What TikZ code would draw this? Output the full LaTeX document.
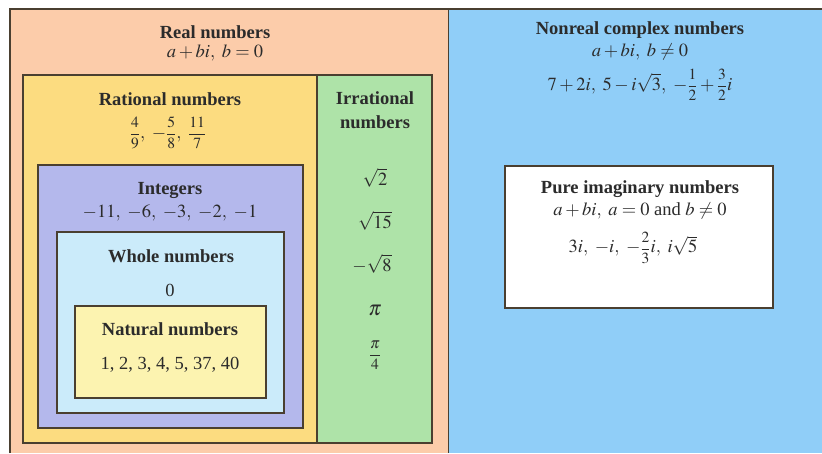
\documentclass[tikz,border=0pt]{standalone}
\usepackage{mathptmx}
\usepackage[no-math]{fontspec}
\setmainfont{Liberation Serif}
\definecolor{realc}{HTML}{FCCCAA}
\definecolor{ratc}{HTML}{FCDC80}
\definecolor{irrc}{HTML}{AEE3A8}
\definecolor{intc}{HTML}{B4B8EC}
\definecolor{wholec}{HTML}{CBEBFA}
\definecolor{natc}{HTML}{FCF3B0}
\definecolor{cplxc}{HTML}{90CEF8}
\definecolor{edgec}{HTML}{4A3F30}
\definecolor{txtc}{HTML}{2B2B2B}
\newcommand{\ff}[2]{\mbox{\fontsize{15.5}{17}\selectfont$\displaystyle\frac{#1}{#2}$}}
\begin{document}
\begin{tikzpicture}[x=1pt,y=-1pt,
  region/.style={draw=edgec,line width=1.3pt},
  lbl/.style={text=txtc,font=\fontsize{18.5}{24}\selectfont,align=center,inner sep=0pt},
  ttl/.style={lbl,font=\fontsize{18.5}{24}\selectfont\bfseries}]
\useasboundingbox (0,0) rectangle (822,453);
\fill[white] (0,0) rectangle (822,453);
% regions
\path[fill=cplxc] (448,9) rectangle (822,453);
\draw[edgec,line width=1.3pt] (448,453) -- (448,9) -- (822,9);
\path[fill=realc] (10,9) rectangle (448,453);
\draw[edgec,line width=1.3pt] (10,453) -- (10,9) -- (448,9);
\draw[region,fill=ratc] (23,75) rectangle (317,443);
\draw[region,fill=irrc] (317,75) rectangle (432,443);
\draw[region,fill=intc] (38,165) rectangle (303,428);
\draw[region,fill=wholec] (57,232) rectangle (284,413);
\draw[region,fill=natc] (75,306) rectangle (266,398);
\draw[region,fill=white] (505,166) rectangle (773,308);
% texts
\node[ttl] (real) at (215,32) {Real numbers};
\node[lbl] (realf) at (215,53) {$a+bi,\ b=0$};
\node[ttl] (rat) at (170,99) {Rational numbers};
\node[lbl] (ratx) at (168,133) {$\ff{4}{9},\ -\ff{5}{8},\ \ff{11}{7}$};
\node[ttl] (irr) at (375,110) {Irrational\\numbers};
\node[lbl] (ir1) at (375,178) {$\sqrt{2}$};
\node[lbl] (ir2) at (375,221) {$\sqrt{15}$};
\node[lbl] (ir3) at (372,264) {$-\sqrt{8}$};
\node[lbl] (ir4) at (375,310) {\fontsize{21}{24}\selectfont$\pi$};
\node[lbl] (ir5) at (375,355) {$\ff{\pi}{4}$};
\node[ttl] (int) at (170,190) {Integers};
\node[lbl] (intx) at (170,213) {$-11,\ -6,\ -3,\ -2,\ -1$};
\node[ttl] (whole) at (171,256) {Whole numbers};
\node[lbl] (wholex) at (170,290) {0};
\node[ttl] (nat) at (170,329) {Natural numbers};
\node[lbl] (natx) at (170,365) {1, 2, 3, 4, 5, 37, 40};
\node[ttl] (cplx) at (640,30) {Nonreal complex numbers};
\node[lbl] (cplxf) at (640,52) {$a+bi,\ b\neq 0$};
\node[lbl] (cplxx) at (640,85) {$7+2i,\ 5-i\sqrt{3},\ -\ff{1}{2}+\ff{3}{2}i$};
\node[ttl] (pure) at (640,189) {Pure imaginary numbers};
\node[lbl] (puref) at (640,211) {$a+bi,\ a=0$ and $b\neq 0$};
\node[lbl] (purex) at (633,248) {$3i,\ -i,\ -\ff{2}{3}i,\ i\sqrt{5}$};
\end{tikzpicture}
\end{document}
